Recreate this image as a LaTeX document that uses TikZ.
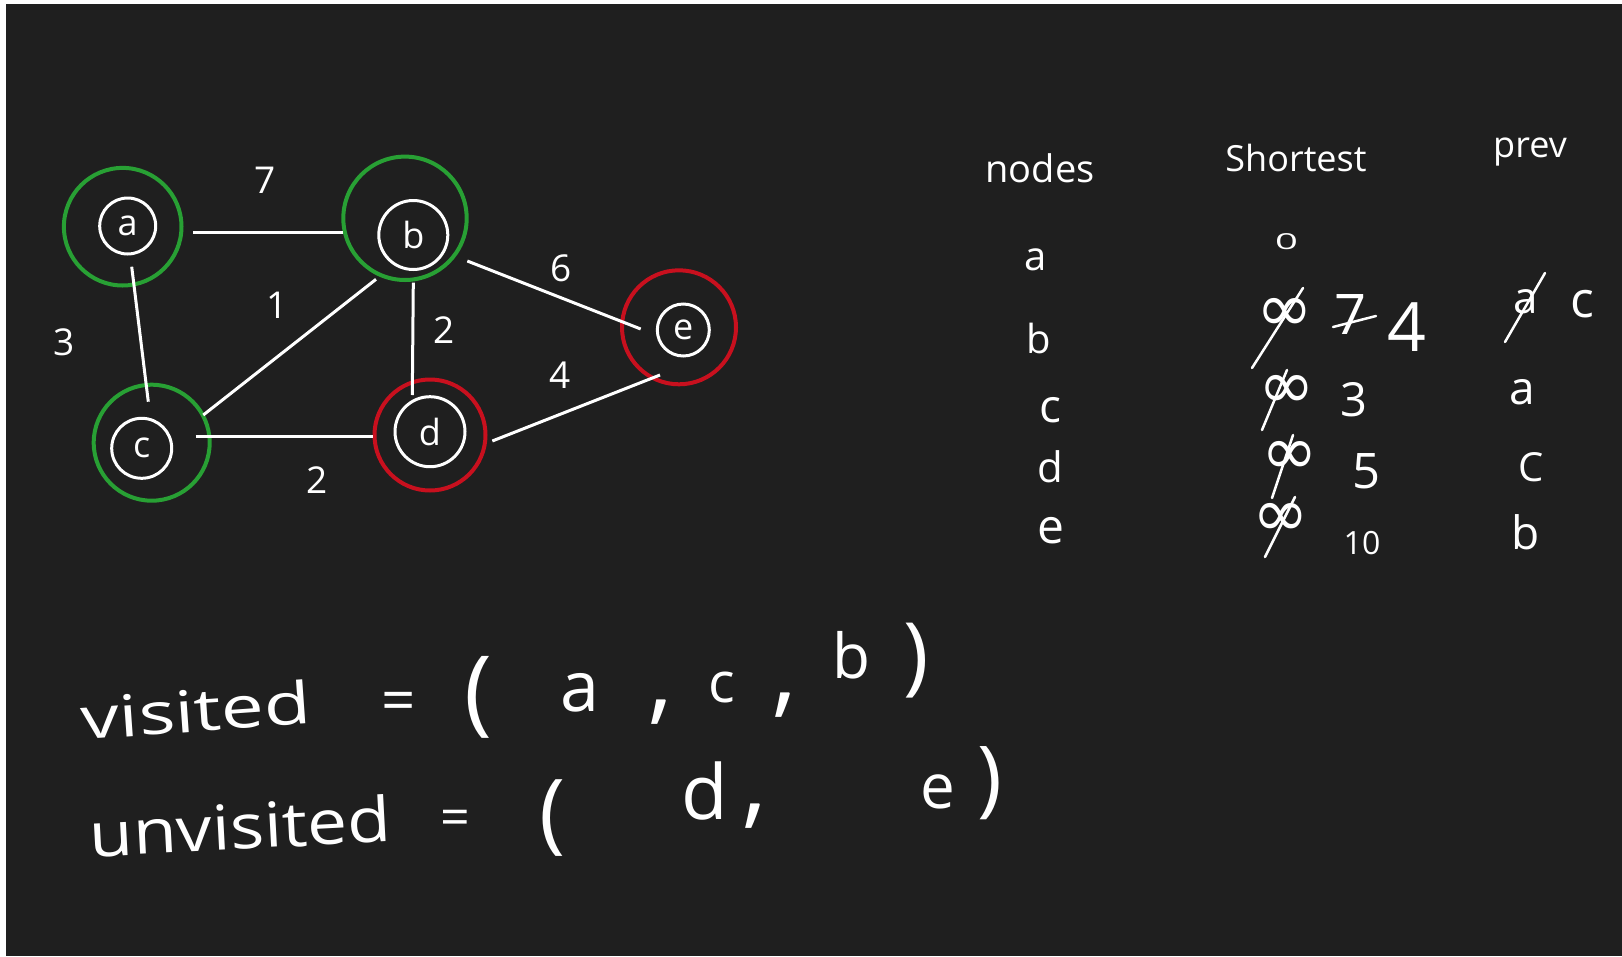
\documentclass[tikz,border=0pt]{standalone}
\usepackage{fontspec}
\setmainfont{Open Sans}
\newfontfamily\symfam{DejaVu Sans}
\usetikzlibrary{calc}
\definecolor{bgdark}{RGB}{31,31,31}
\definecolor{ringgreen}{RGB}{40,160,52}
\definecolor{ringred}{RGB}{200,16,30}
\newcommand{\myfs}[1]{\fontsize{#1}{#1}\selectfont}
\begin{document}
\begin{tikzpicture}[x=1pt,y=-1pt,
  every node/.style={text=white, inner sep=0pt},
  inner/.style={circle, draw=white, line width=3pt, inner sep=0pt, font=\myfs{36}},
  ring/.style={circle, draw=#1, line width=4pt, inner sep=0pt},
  edge/.style={draw=white, line width=3pt},
  wlabel/.style={font=\myfs{37}},
  hand/.style={font=\myfs{#1}},
  inf/.style={font=\symfam\fontsize{68}{68}\selectfont},
  strike/.style={draw=white, line width=2.5pt, line cap=round}]
\fill[white] (0,0) rectangle (1622,956);
\fill[bgdark] (6,4) rectangle (1622,956);
\useasboundingbox (0,0) rectangle (1622,956);

% rings
\node[ring=ringgreen, minimum size=117.6pt] (ra) at (122.7,226.7) {};
\node[ring=ringgreen, minimum size=123.4pt] (rb) at (405,218.3) {};
\node[ring=ringgreen, minimum size=116pt] (rc) at (151.7,442.7) {};
\node[ring=ringred, minimum size=111pt] (rd) at (430,435) {};
\node[ring=ringred, minimum size=114pt] (re) at (679,327.3) {};
% inner nodes
\node[inner, minimum size=56pt] (a) at (127.7,226) {a};
\node[inner, minimum size=69pt] (b) at (413.3,235) {b};
\node[inner, minimum size=60pt] (c) at (141.7,448.3) {c};
\node[inner, minimum size=70pt] (d) at (430,431.7) {d};
\node[inner, minimum size=52pt] (e) at (683.3,330) {e};

% edges
\draw[edge] ($(ra)+(70.6,5.6)$) -- ($(rb)+(-61.7,14)$);
\draw[edge] ($(ra)+(9,40)$) -- ($(rc)+(-3.4,-41)$);
\draw[edge] ($(rc)+(51.6,-27.7)$) -- ($(rb)+(-29,61)$);
\draw[edge] ($(rb)+(8.3,64.4)$) -- ($(rd)+(-17.7,-40)$);
\draw[edge] ($(rc)+(44,-6)$) -- ($(rd)+(-56.7,1.7)$);
\draw[edge] ($(rb)+(62.3,42.7)$) -- ($(re)+(-38.3,1.7)$);
\draw[edge] ($(rd)+(62.3,6)$) -- ($(re)+(-19,47.7)$);

% edge labels
\node[wlabel] (lab) at (265,180) {7};
\node[wlabel] (lac) at (64,342) {3};
\node[wlabel] (lbc) at (277,305) {1};
\node[wlabel] (lbd) at (444,330) {2};
\node[wlabel] (lcd) at (317,480) {2};
\node[wlabel] (lbe) at (561,268) {6};
\node[wlabel] (lde) at (560,375) {4};

% table headers
\node[hand=38] (hnodes) at (1040,168) {nodes};
\node[hand=36] (hshort) at (1296,158) {Shortest};
\node[hand=36] (hprev) at (1530,152) {prev};

% nodes column
\node[hand=40] (na) at (1036,260) {a};
\node[hand=40] (nb) at (1039,338) {b};
\node[hand=46] (nc) at (1050,410) {c};
\node[hand=42] (nd) at (1050,467) {d};
\node[hand=48] (ne) at (1051,531) {e};

% shortest column
\node[hand=40] (s0) at (1286.5,241.7) {\scalebox{1}[0.55]{0}};
\node[inf] (sinfb) at (1285,315) {∞};
\node[hand=56] (s7) at (1350,315) {7};
\node[hand=68] (s4) at (1407,327) {4};
\node[inf] (sinfc) at (1287,392) {∞};
\node[hand=47] (s3) at (1354,400) {3};
\node[inf] (sinfd) at (1290,458) {∞};
\node[hand=49] (s5) at (1366,471) {5};
\node[inf] (sinfe) at (1281,520) {∞};
\node[hand=32] (s10) at (1362,543) {10};
\draw[strike] ($(sinfb)+(-33,53)$) -- ($(sinfb)+(18,-27)$);
\draw[strike] ($(s7)+(-17,12)$) -- ($(s7)+(26,1)$);
\draw[strike] ($(sinfc)+(-25,38)$) -- ($(sinfc)+(0,-22)$);
\draw[strike] ($(sinfd)+(-18,40)$) -- ($(sinfd)+(3,-23)$);
\draw[strike] ($(sinfe)+(-16,37)$) -- ($(sinfe)+(14,-23)$);

% prev column
\node[hand=44] (pbold) at (1526,302) {a};
\node[hand=50] (pb) at (1582,304) {c};
\node[hand=46] (pc) at (1522,392) {a};
\node[hand=40] (pd) at (1531,467) {C};
\node[hand=46] (pe) at (1526,532) {b};
\draw[strike] ($(pbold)+(-21,40)$) -- ($(pbold)+(19,-29)$);

% visited line
\node[hand=58, rotate=4] (visited) at (196,710) {\scalebox{1.32}[1]{visited}};
\node[hand=60] (veq) at (399,707) {=};
\node[hand=94] (vlp) at (478,697) {(};
\node[hand=70] (va) at (580,693) {a};
\node[hand=100] (vc1) at (661,712) {,};
\node[hand=56] (vc) at (722,688) {c};
\node[hand=100] (vc2) at (785,705) {,};
\node[hand=62] (vb) at (851,655) {b};
\node[hand=86] (vrp) at (916,661) {)};

% unvisited line
\node[hand=62, rotate=3] (unvisited) at (240,826) {\scalebox{1.15}[1]{unvisited}};
\node[hand=52] (ueq) at (455,823) {=};
\node[hand=88] (ulp) at (553,818) {(};
\node[hand=76] (ud) at (705,791) {d};
\node[hand=100] (uc1) at (755,816) {,};
\node[hand=62] (ue) at (938,792) {e};
\node[hand=84] (urp) at (990,783) {)};
\end{tikzpicture}
\end{document}
